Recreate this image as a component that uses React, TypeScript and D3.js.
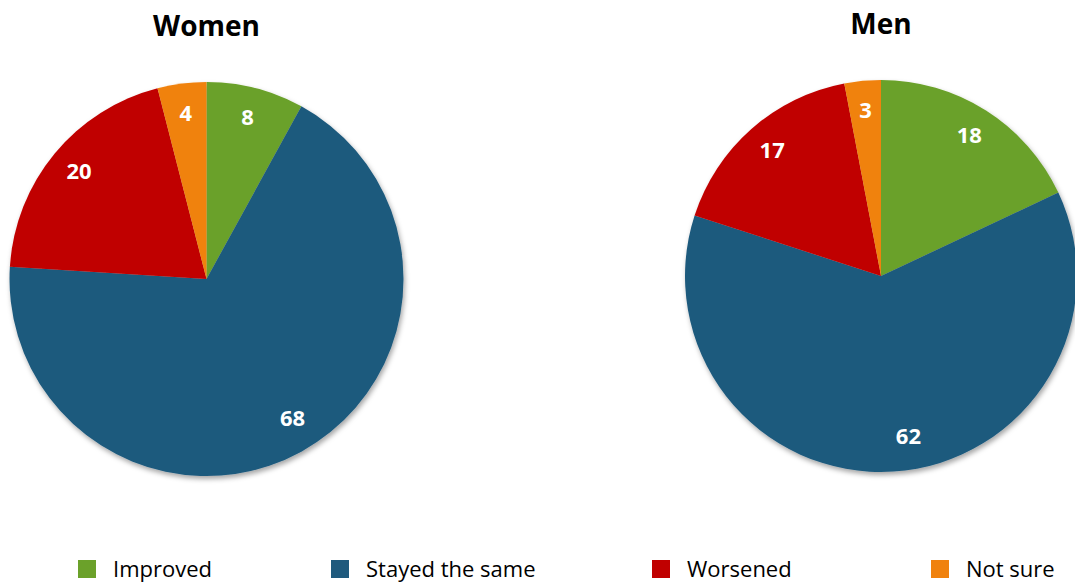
import React from "react";
import * as d3 from "d3";

const categories = ["Improved", "Stayed the same", "Worsened", "Not sure"];
const colors = ["#6BA12A", "#1F5A7D", "#C00000", "#F0820E"];
const womenValues = [8, 68, 20, 4];
const menValues = [18, 62, 17, 3];
const charts = [
  { title: "Women", values: womenValues, cx: 206.5, cy: 279, r: 197 },
  { title: "Men", values: menValues, cx: 881, cy: 276, r: 196 },
];
// small angular nudges (degrees) applied to label placement, mimicking the original's best-fit labels
const labelAngleShift = [
  [0, -2.5, 0, 0],
  [0, -6, 0, 0],
];
const legendSquareX = [78, 331, 652, 931];
const legendGap = 35;

const font = "'Open Sans', 'Noto Sans', sans-serif";

function Pie({ title, values, cx, cy, r, shifts }: { title: string; values: number[]; cx: number; cy: number; r: number; shifts: number[] }) {
  const pie = d3.pie<number>().sort(null).value((d) => d);
  const arcs = pie(values);
  const arc = d3.arc<d3.PieArcDatum<number>>().innerRadius(0).outerRadius(r);
  const lr = r * 0.84;
  return (
    <g>
      <text x={cx} y={cy - r - 46} textAnchor="middle" fontFamily={font} fontWeight="bold" fontSize={28} fill="#000">
        {title}
      </text>
      <g transform={`translate(${cx},${cy})`}>
        <g filter="url(#shadow)">
          {arcs.map((a, i) => (
            <path key={i} d={arc(a) || ""} fill={colors[i]} />
          ))}
        </g>
        {arcs.map((a, i) => {
          const ang = (a.startAngle + a.endAngle) / 2 + (shifts[i] * Math.PI) / 180;
          const x = Math.sin(ang) * lr;
          const y = -Math.cos(ang) * lr - 2;
          return (
            <text key={"l" + i} x={x} y={y} dy="0.36em" textAnchor="middle" fontFamily={font} fontWeight="bold" fontSize={22} fill="#fff">
              {values[i]}
            </text>
          );
        })}
      </g>
    </g>
  );
}

export default function App() {
  return (
    <svg width={1075} height={583} style={{ position: "absolute", left: 0, top: 0, background: "#fff" }}>
      <defs>
        <filter id="shadow" x="-20%" y="-20%" width="140%" height="140%">
          <feDropShadow dx="1.5" dy="3" stdDeviation="2.5" floodColor="#000" floodOpacity="0.35" />
        </filter>
      </defs>
      {charts.map((c, i) => (
        <Pie key={c.title} {...c} shifts={labelAngleShift[i]} />
      ))}
      {categories.map((c, i) => (
        <g key={c}>
          <rect x={legendSquareX[i]} y={560} width={18} height={18} fill={colors[i]} />
          <text x={legendSquareX[i] + legendGap} y={576.5} fontFamily={font} fontSize={22} fill="#000">
            {c}
          </text>
        </g>
      ))}
    </svg>
  );
}
